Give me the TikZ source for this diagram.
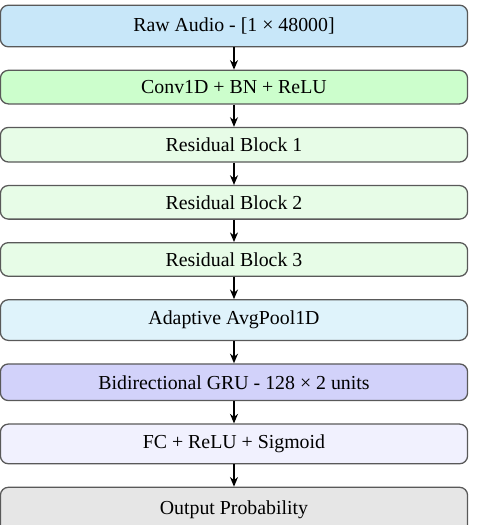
\documentclass[tikz,border=0pt]{standalone}
\usepackage{fontspec}
\setmainfont{Liberation Serif}
\usepackage{tikz}
\usetikzlibrary{arrows.meta}
\usetikzlibrary{positioning}

\definecolor{rawblue}{HTML}{C8E7F9}
\definecolor{convgreen}{HTML}{CCFECC}
\definecolor{resgreen}{HTML}{E7FCE7}
\definecolor{poolblue}{HTML}{DFF3FB}
\definecolor{grupurple}{HTML}{D2D2FA}
\definecolor{fclav}{HTML}{F1F1FE}
\definecolor{outgray}{HTML}{E6E6E6}

\begin{document}
\begin{tikzpicture}[
        layer/.style={draw=black!65,line width=0.8pt,rounded corners=5pt,minimum width=292pt,inner sep=0pt,font=\fontsize{12.4}{15}\selectfont},
        flow/.style={-{Stealth[length=6pt,width=5pt]},line width=0.75pt},
        node distance=13.9pt
    ]
        \useasboundingbox (-146.25pt,16.25pt) rectangle (152.5pt,-311.875pt);
        \node[layer,fill=rawblue,minimum height=26pt] (raw) at (0,0) {Raw Audio - [1 × 48000]};
        \node[layer,fill=convgreen,minimum height=21pt,below=of raw] (conv) {Conv1D + BN + ReLU};
        \node[layer,fill=resgreen,minimum height=21.6pt,below=of conv] (res1) {Residual Block 1};
        \node[layer,fill=resgreen,minimum height=21pt,below=of res1] (res2) {Residual Block 2};
        \node[layer,fill=resgreen,minimum height=21pt,below=of res2] (res3) {Residual Block 3};
        \node[layer,fill=poolblue,minimum height=25.4pt,below=of res3] (pool) {Adaptive AvgPool1D};
        \node[layer,fill=grupurple,minimum height=22.9pt,below=of pool] (gru) {Bidirectional GRU - 128 × 2 units};
        \node[layer,fill=fclav,minimum height=24.8pt,below=of gru] (fc) {FC + ReLU + Sigmoid};
        \node[layer,fill=outgray,minimum height=28pt,below=of fc] (out) {Output Probability};
        \foreach \a/\b in {raw/conv,conv/res1,res1/res2,res2/res3,res3/pool,pool/gru,gru/fc,fc/out}{
            \draw[flow] (\a) -- (\b);
        }
    \end{tikzpicture}
\end{document}
